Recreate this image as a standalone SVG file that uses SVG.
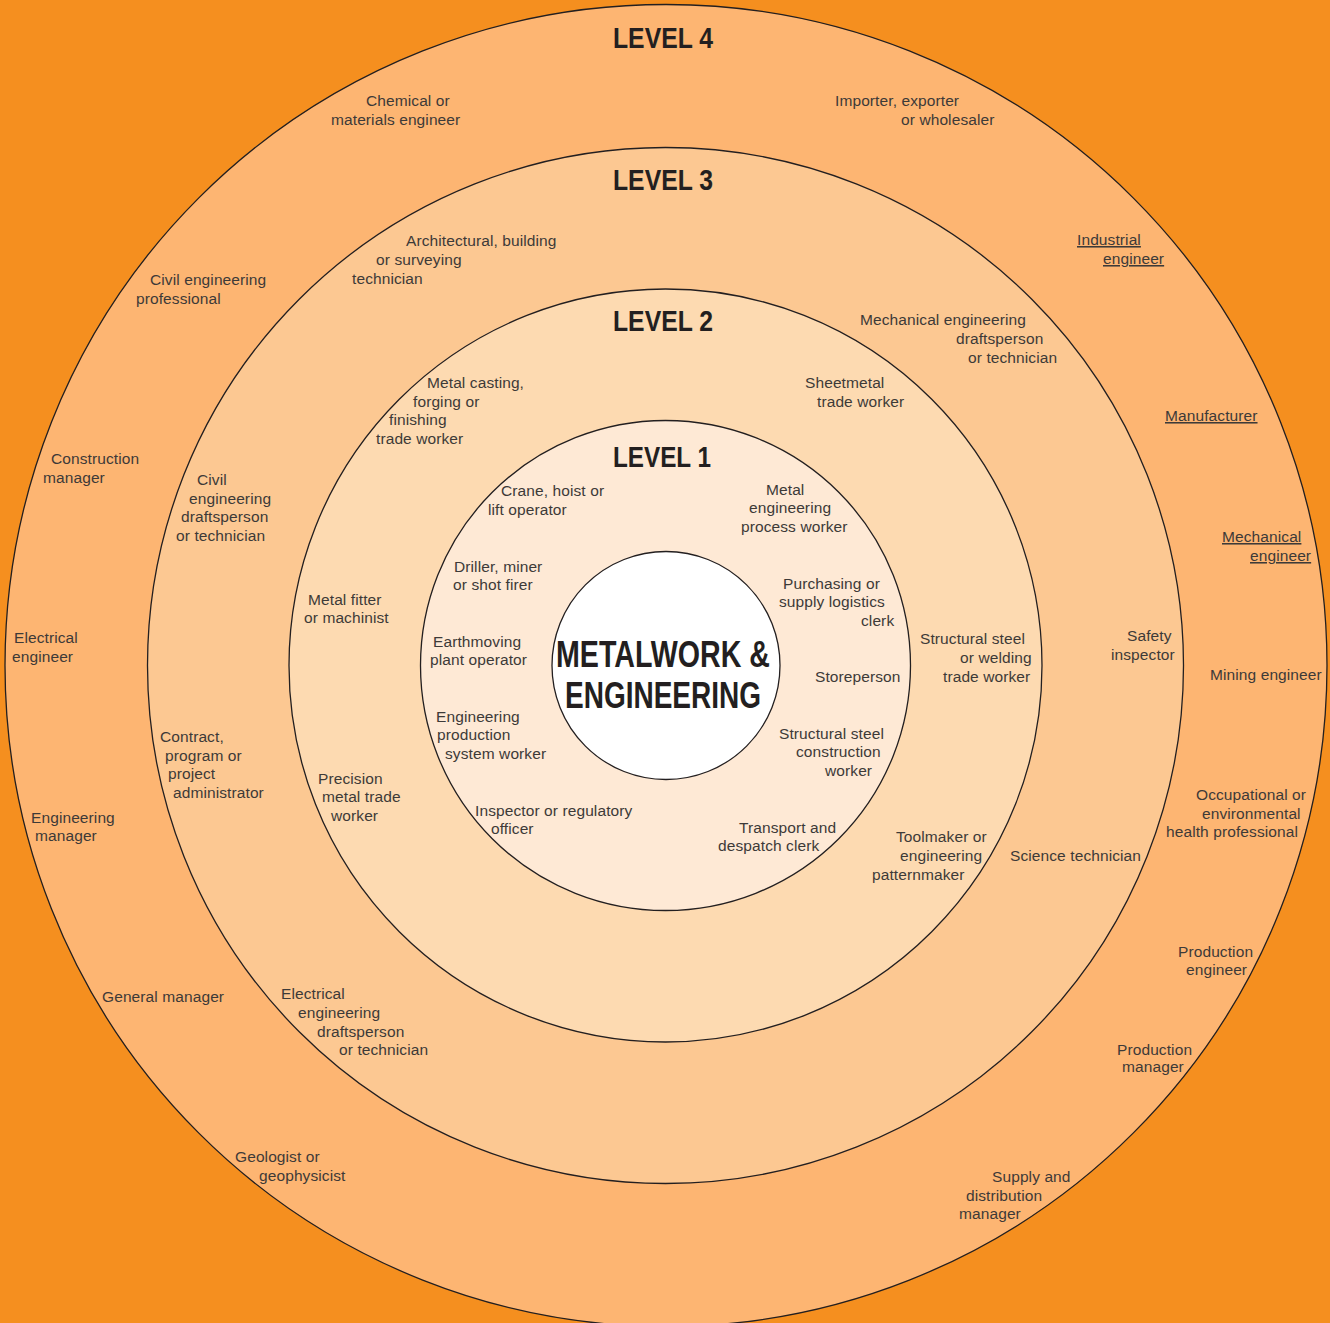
<svg xmlns="http://www.w3.org/2000/svg" width="1330" height="1323" viewBox="0 0 1330 1323">
<style>
.ring{stroke:#231f20;stroke-width:1.3}
.t{font-family:"Liberation Sans",Arial,sans-serif;font-size:15.5px;fill:#3d3a38;letter-spacing:0.1px}
.u{text-decoration:underline}
.h{font-family:"Liberation Sans",Arial,sans-serif;font-weight:bold;font-size:30px;fill:#231f20}
.c{font-family:"Liberation Sans",Arial,sans-serif;font-weight:bold;font-size:37px;fill:#231f20}
</style>
<rect x="0" y="0" width="1330" height="1323" fill="#F58F1F"/>
<g id="rings">
<circle id="ring4" class="ring" cx="666" cy="665.5" r="661" fill="#FDB572"/>
<circle id="ring3" class="ring" cx="665.5" cy="665.5" r="518" fill="#FCC892"/>
<circle id="ring2" class="ring" cx="665.5" cy="665.5" r="376.5" fill="#FDDAB1"/>
<circle id="ring1" class="ring" cx="665.5" cy="665.5" r="245" fill="#FEE9D5"/>
<circle id="core" class="ring" cx="666" cy="665.5" r="114" fill="#FFFFFF"/>
</g>
<g id="headings">
<text class="h" x="613" y="48" textLength="100" lengthAdjust="spacingAndGlyphs">LEVEL 4</text>
<text class="h" x="613" y="190" textLength="100" lengthAdjust="spacingAndGlyphs">LEVEL 3</text>
<text class="h" x="613" y="331" textLength="100" lengthAdjust="spacingAndGlyphs">LEVEL 2</text>
<text class="h" x="613" y="467" textLength="98" lengthAdjust="spacingAndGlyphs">LEVEL 1</text>
</g>
<g id="center">
<text class="c" x="556" y="667" textLength="214" lengthAdjust="spacingAndGlyphs">METALWORK &amp;</text>
<text class="c" x="565" y="708" textLength="196" lengthAdjust="spacingAndGlyphs">ENGINEERING</text>
</g>
<g id="level4">
<g id="chemical"><text class="t" x="366" y="106">Chemical or</text><text class="t" x="331" y="125">materials engineer</text></g>
<g id="importer"><text class="t" x="835" y="106">Importer, exporter</text><text class="t" x="901" y="125">or wholesaler</text></g>
<g id="industrial"><text class="t u" x="1077" y="245">Industrial</text><text class="t u" x="1103" y="264">engineer</text></g>
<g id="manufacturer"><text class="t u" x="1165" y="421">Manufacturer</text></g>
<g id="mechanical"><text class="t u" x="1222" y="542">Mechanical</text><text class="t u" x="1250" y="561">engineer</text></g>
<g id="mining"><text class="t" x="1210" y="680">Mining engineer</text></g>
<g id="occupational"><text class="t" x="1196" y="800">Occupational or</text><text class="t" x="1202" y="819">environmental</text><text class="t" x="1166" y="837">health professional</text></g>
<g id="prodeng"><text class="t" x="1178" y="957">Production</text><text class="t" x="1186" y="975">engineer</text></g>
<g id="prodman"><text class="t" x="1117" y="1055">Production</text><text class="t" x="1122" y="1072">manager</text></g>
<g id="supply"><text class="t" x="992" y="1182">Supply and</text><text class="t" x="966" y="1201">distribution</text><text class="t" x="959" y="1219">manager</text></g>
<g id="geologist"><text class="t" x="235" y="1162">Geologist or</text><text class="t" x="259" y="1181">geophysicist</text></g>
<g id="general"><text class="t" x="102" y="1002">General manager</text></g>
<g id="engman"><text class="t" x="31" y="823">Engineering</text><text class="t" x="35" y="841">manager</text></g>
<g id="electrical"><text class="t" x="14" y="643">Electrical</text><text class="t" x="12" y="662">engineer</text></g>
<g id="construction"><text class="t" x="51" y="464">Construction</text><text class="t" x="43" y="483">manager</text></g>
<g id="civilpro"><text class="t" x="150" y="285">Civil engineering</text><text class="t" x="136" y="304">professional</text></g>
</g>
<g id="level3">
<g id="architectural"><text class="t" x="406" y="246">Architectural, building</text><text class="t" x="376" y="265">or surveying</text><text class="t" x="352" y="284">technician</text></g>
<g id="mechdraft"><text class="t" x="860" y="325">Mechanical engineering</text><text class="t" x="956" y="344">draftsperson</text><text class="t" x="968" y="363">or technician</text></g>
<g id="safety"><text class="t" x="1127" y="641">Safety</text><text class="t" x="1111" y="660">inspector</text></g>
<g id="science"><text class="t" x="1010" y="861">Science technician</text></g>
<g id="elecdraft"><text class="t" x="281" y="999">Electrical</text><text class="t" x="298" y="1018">engineering</text><text class="t" x="317" y="1037">draftsperson</text><text class="t" x="339" y="1055">or technician</text></g>
<g id="contract"><text class="t" x="160" y="742">Contract,</text><text class="t" x="165" y="761">program or</text><text class="t" x="168" y="779">project</text><text class="t" x="173" y="798">administrator</text></g>
<g id="civildraft"><text class="t" x="197" y="485">Civil</text><text class="t" x="189" y="504">engineering</text><text class="t" x="181" y="522">draftsperson</text><text class="t" x="176" y="541">or technician</text></g>
</g>
<g id="level2">
<g id="casting"><text class="t" x="427" y="388">Metal casting,</text><text class="t" x="413" y="407">forging or</text><text class="t" x="389" y="425">finishing</text><text class="t" x="376" y="444">trade worker</text></g>
<g id="sheetmetal"><text class="t" x="805" y="388">Sheetmetal</text><text class="t" x="817" y="407">trade worker</text></g>
<g id="structwelding"><text class="t" x="920" y="644">Structural steel</text><text class="t" x="960" y="663">or welding</text><text class="t" x="943" y="682">trade worker</text></g>
<g id="toolmaker"><text class="t" x="896" y="842">Toolmaker or</text><text class="t" x="900" y="861">engineering</text><text class="t" x="872" y="880">patternmaker</text></g>
<g id="precision"><text class="t" x="318" y="784">Precision</text><text class="t" x="322" y="802">metal trade</text><text class="t" x="331" y="821">worker</text></g>
<g id="fitter"><text class="t" x="308" y="605">Metal fitter</text><text class="t" x="304" y="623">or machinist</text></g>
</g>
<g id="level1">
<g id="crane"><text class="t" x="501" y="496">Crane, hoist or</text><text class="t" x="488" y="515">lift operator</text></g>
<g id="metalproc"><text class="t" x="766" y="495">Metal</text><text class="t" x="749" y="513">engineering</text><text class="t" x="741" y="532">process worker</text></g>
<g id="driller"><text class="t" x="454" y="572">Driller, miner</text><text class="t" x="453" y="590">or shot firer</text></g>
<g id="purchasing"><text class="t" x="783" y="589">Purchasing or</text><text class="t" x="779" y="607">supply logistics</text><text class="t" x="861" y="626">clerk</text></g>
<g id="earthmoving"><text class="t" x="433" y="647">Earthmoving</text><text class="t" x="430" y="665">plant operator</text></g>
<g id="storeperson"><text class="t" x="815" y="682">Storeperson</text></g>
<g id="engprod"><text class="t" x="436" y="722">Engineering</text><text class="t" x="437" y="740">production</text><text class="t" x="445" y="759">system worker</text></g>
<g id="structcons"><text class="t" x="779" y="739">Structural steel</text><text class="t" x="796" y="757">construction</text><text class="t" x="825" y="776">worker</text></g>
<g id="inspector"><text class="t" x="475" y="816">Inspector or regulatory</text><text class="t" x="491" y="834">officer</text></g>
<g id="transport"><text class="t" x="739" y="833">Transport and</text><text class="t" x="718" y="851">despatch clerk</text></g>
</g>
</svg>
